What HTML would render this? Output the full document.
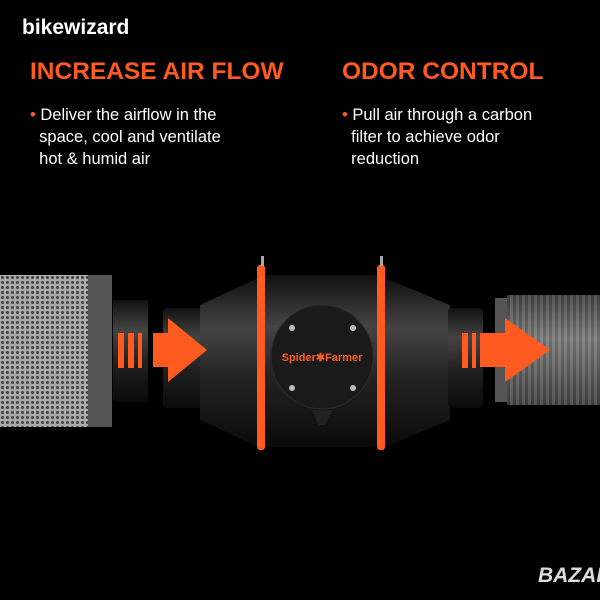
<!DOCTYPE html>
<html><head><style>
body{margin:0;background:#000;width:600px;height:600px;overflow:hidden;position:relative;font-family:"Liberation Sans",sans-serif}
.t{position:absolute;color:#fff}
</style></head><body>
<div class="t" style="left:22px;top:16px;font-size:21px;font-weight:bold">bikewizard</div>
<div class="t" style="left:30px;top:58px;font-size:24.5px;font-weight:bold;color:#ff5a1f">INCREASE AIR FLOW</div>
<div class="t" style="left:342px;top:58px;font-size:24.5px;font-weight:bold;color:#ff5a1f">ODOR CONTROL</div>
<div class="t" style="left:30px;top:104px;font-size:16.5px;line-height:22px;width:280px"><span style="color:#ff5a1f">•</span> Deliver the airflow in the<br>&nbsp;&nbsp;space, cool and ventilate<br>&nbsp;&nbsp;hot &amp; humid air</div>
<div class="t" style="left:342px;top:104px;font-size:16.5px;line-height:22px;width:260px"><span style="color:#ff5a1f">•</span> Pull air through a carbon<br>&nbsp;&nbsp;filter to achieve odor<br>&nbsp;&nbsp;reduction</div>
<svg width="600" height="600" style="position:absolute;left:0;top:0">
<defs>
<pattern id="m" width="5" height="5" patternUnits="userSpaceOnUse"><rect width="5" height="5" fill="#aaa"/><circle cx="2.5" cy="2.5" r="1.5" fill="#444"/></pattern>
<linearGradient id="v" x1="0" y1="0" x2="0" y2="1"><stop offset="0" stop-color="#111"/><stop offset=".3" stop-color="#444"/><stop offset=".6" stop-color="#222"/><stop offset="1" stop-color="#0a0a0a"/></linearGradient>
<linearGradient id="d" x1="0" y1="0" x2="0" y2="1"><stop offset="0" stop-color="#222"/><stop offset=".4" stop-color="#888"/><stop offset="1" stop-color="#222"/></linearGradient>
<pattern id="r" width="6" height="10" patternUnits="userSpaceOnUse"><rect width="6" height="10" fill="#555"/><rect width="3" height="10" fill="#888"/></pattern>
</defs>
<rect x="0" y="275" width="112" height="152" fill="url(#m)"/>
<rect x="88" y="275" width="24" height="152" fill="#555"/>
<rect x="113" y="300" width="35" height="102" fill="url(#v)"/>
<rect x="163" y="308" width="40" height="100" rx="4" fill="url(#v)"/>
<path d="M200 305 L258 278 L258 447 L200 420Z" fill="url(#v)"/>
<rect x="258" y="275" width="127" height="172" fill="url(#v)"/>
<path d="M385 278 L450 305 L450 420 L385 447Z" fill="url(#v)"/>
<rect x="448" y="308" width="35" height="100" rx="4" fill="url(#v)"/>
<rect x="495" y="298" width="12" height="104" fill="#555"/>
<rect x="507" y="295" width="93" height="110" fill="url(#r)"/>
<rect x="507" y="295" width="93" height="110" fill="url(#d)" opacity=".5"/>
<rect x="257" y="265" width="8" height="185" rx="3" fill="#ff5a1f"/>
<rect x="377" y="265" width="8" height="185" rx="3" fill="#ff5a1f"/>
<rect x="261" y="256" width="3" height="10" fill="#aaa"/><rect x="380" y="256" width="3" height="10" fill="#aaa"/>
<ellipse cx="322" cy="357" rx="51" ry="52" fill="#1a1a1a" stroke="#2a2a2a"/>
<circle cx="292" cy="328" r="3" fill="#bbb"/><circle cx="353" cy="328" r="3" fill="#bbb"/><circle cx="292" cy="388" r="3" fill="#bbb"/><circle cx="353" cy="388" r="3" fill="#bbb"/>
<text x="322" y="361" font-size="11" font-weight="bold" fill="#ff5a1f" text-anchor="middle" font-family="Liberation Sans">Spider✱Farmer</text>
<path d="M312 410 L332 410 L325 425 L319 425Z" fill="#222"/>
<path d="M118 333h6v35h-6zM128 333h6v35h-6zM138 333h4v35h-4zM153 333h15v-15l39 32-39 32v-15h-15z" fill="#ff5a1f"/>
<path d="M462 333h6v35h-6zM472 333h4v35h-4zM480 333h25v-15l45 32-45 32v-15h-25z" fill="#ff5a1f"/>
<text x="538" y="582" font-size="21" font-weight="bold" fill="#ddd" font-family="Liberation Sans" font-style="italic">BAZAR</text>
</svg>
</body></html>
